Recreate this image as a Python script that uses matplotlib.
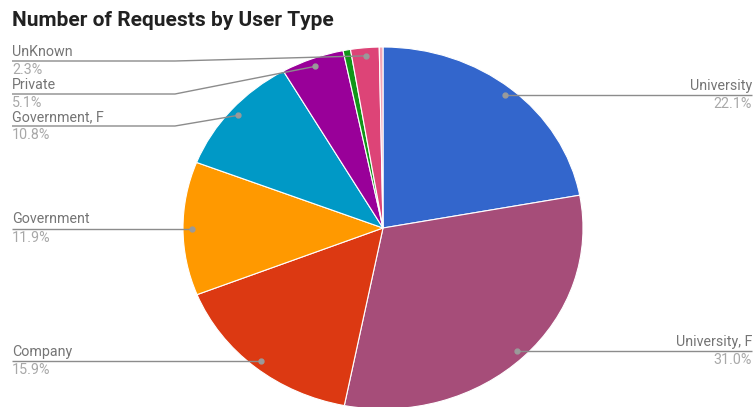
import numpy as np
import matplotlib.pyplot as plt

plt.rcParams['font.family'] = ['Roboto', 'DejaVu Sans']

# slices clockwise from 12 o'clock
names = ["University", "University, F", "Company", "Government",
         "Government, F", "Private", "Other", "UnKnown", "Rest"]
shares = [22.1, 31.0, 15.9, 11.9, 10.8, 5.1, 0.6, 2.3, 0.3]
colors = ["#3366cc", "#a64d79", "#dc3912", "#ff9900", "#0099c6",
          "#990099", "#109618", "#dd4477", "#f2a5b5"]
shown = ["University", "University, F", "Company", "Government",
         "Government, F", "Private", "UnKnown"]

# labels that are moved off the dot height (pixels from top)
label_y = {"Government, F": 126, "Private": 94, "UnKnown": 61}
right_side = ["University", "University, F"]

W, H = 756, 407
cx, cy, rx, ry = 383, 228, 200, 181
DOT_R = 0.955

fig = plt.figure(figsize=(W / 100, H / 100), dpi=100)
ax = fig.add_axes([0, 0, 1, 1])
wedges, _ = ax.pie(shares, colors=colors, startangle=90, counterclock=False,
                   wedgeprops=dict(edgecolor="white", linewidth=0.8))
ax.set_aspect("auto")
ax.set_xlim(-cx / rx, (W - cx) / rx)
ax.set_ylim(-(H - cy) / ry, cy / ry)
ax.axis("off")

LX = -(cx - 12) / rx
RX = (752 - cx) / rx
KX = -(cx - 175) / rx
line_c = "#8c8c8c"
fs = 10.3

total = sum(shares)
start = 90.0
for n, s in zip(names, shares):
    span = s / total * 360
    mid = np.radians(start - span / 2)
    start -= span
    if n not in shown:
        continue
    dx, dy = DOT_R * np.cos(mid), DOT_R * np.sin(mid)
    ly = (cy - label_y[n]) / ry if n in label_y else dy
    if n in right_side:
        ax.plot([dx, RX], [ly, ly], color=line_c, lw=1, solid_capstyle="butt")
        ax.text(RX, ly + 0.012, n, ha="right", va="bottom", color="#757575", fontsize=fs)
        ax.text(RX, ly - 0.012, f"{s:.1f}%", ha="right", va="top", color="#a8a8a8", fontsize=fs)
    else:
        kx = KX if n in label_y else dx
        ax.plot([LX, kx, dx], [ly, ly, dy], color=line_c, lw=1, solid_capstyle="butt")
        ax.text(LX, ly + 0.012, n, ha="left", va="bottom", color="#757575", fontsize=fs)
        ax.text(LX, ly - 0.012, f"{s:.1f}%", ha="left", va="top", color="#a8a8a8", fontsize=fs)
    ax.plot(dx, dy, "o", color="#9a9a9a", ms=3.5)

fig.text(12 / W, 1 - 20 / H, "Number of Requests by User Type", ha="left", va="center",
         fontsize=15, fontweight="bold", color="#212121")

fig.savefig("out.png", dpi=100)
